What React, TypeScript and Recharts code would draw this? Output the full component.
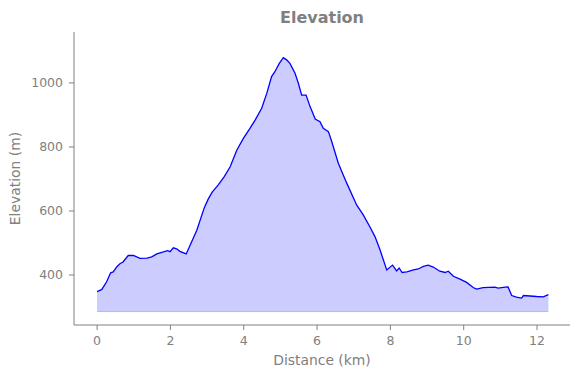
import React from "react";
import { AreaChart, Area, XAxis, YAxis, ReferenceLine, Label } from "recharts";

const distanceKm = [
  0, 0.13, 0.26, 0.37, 0.44, 0.54, 0.63, 0.7, 0.85, 0.99, 1.17, 1.36, 1.49, 1.63, 1.81, 1.92, 1.99, 2.08,
  2.17, 2.26, 2.43, 2.54, 2.72, 2.92, 3.03, 3.14, 3.3, 3.46, 3.63, 3.81, 3.99, 4.17, 4.31, 4.49, 4.63,
  4.76, 4.85, 4.97, 5.08, 5.17, 5.26, 5.4, 5.49, 5.58, 5.7, 5.81, 5.95, 6.08, 6.17, 6.31, 6.4, 6.58,
  6.81, 7.08, 7.26, 7.44, 7.58, 7.72, 7.9, 8.06, 8.17, 8.24, 8.32, 8.45, 8.63, 8.76, 8.9, 9.03, 9.17,
  9.35, 9.49, 9.58, 9.72, 9.9, 10.08, 10.26, 10.35, 10.53, 10.85, 10.94, 11.13, 11.21, 11.31, 11.44,
  11.58, 11.63, 11.99, 12.17, 12.31,
];

const elevationM = [
  348, 355, 379, 407, 410, 426, 436, 440, 461, 461, 452, 453, 457, 466, 472, 476, 473, 485, 482, 474,
  466, 494, 540, 609, 637, 659, 681, 706, 738, 790, 827, 858, 884, 921, 968, 1020, 1035, 1061, 1079,
  1072, 1061, 1030, 999, 962, 962, 926, 887, 879, 858, 848, 817, 749, 687, 619, 588, 551, 520, 478,
  416, 431, 413, 422, 408, 410, 416, 419, 427, 431, 425, 412, 408, 412, 396, 387, 377, 361, 356, 361,
  362, 359, 362, 363, 336, 331, 328, 336, 333, 332, 339,
];

const fillBase = 286;
const xTicks = [0, 2, 4, 6, 8, 10, 12];
const yTicks = [400, 600, 800, 1000];
const xDomain = [-0.63, 12.9];
const yDomain = [244, 1159];

const data = distanceKm.map((d, i) => ({ d, e: elevationM[i] }));

const GRAY = "#808080";
const FONT = "'DejaVu Sans', sans-serif";

const W = 572;
const H = 370;
const M = { top: 24, right: 10, left: 0, bottom: 0 };
const YW = 66;
const XH = 53;

export default function App() {
  const plotTop = M.top;
  const plotH = H - M.top - XH;
  return (
    <div style={{ position: "relative", width: W, height: H, fontFamily: FONT }}>
      <div
        style={{
          position: "absolute",
          left: YW,
          width: W - YW - M.right,
          top: 2,
          textAlign: "center",
          fontSize: 16,
          lineHeight: "16px",
          fontWeight: "bold",
          color: GRAY,
          fontFamily: FONT,
        }}
      >
        Elevation
      </div>
      <AreaChart width={W} height={H} data={data} margin={M}>
        <XAxis
          dataKey="d"
          type="number"
          domain={xDomain}
          ticks={xTicks}
          allowDataOverflow
          height={XH}
          stroke={GRAY}
          tickSize={5}
          tickMargin={6}
          tick={{ fill: GRAY, fontSize: 12.5, fontFamily: FONT }}
        >
          <Label
            content={() => (
              <text
                x={YW + (W - YW - M.right) / 2}
                y={357}
                textAnchor="middle"
                fill={GRAY}
                fontSize={13.9}
                fontFamily={FONT}
              >
                Distance (km)
              </text>
            )}
          />
        </XAxis>
        <YAxis
          type="number"
          domain={yDomain}
          ticks={yTicks}
          allowDataOverflow
          width={YW}
          stroke={GRAY}
          tickSize={5}
          tickMargin={6}
          tick={{ fill: GRAY, fontSize: 12.5, fontFamily: FONT }}
        >
          <Label
            content={() => (
              <text
                x={12}
                y={plotTop + plotH / 2}
                textAnchor="middle"
                fill={GRAY}
                fontSize={13.9}
                fontFamily={FONT}
                transform={`rotate(-90, 12, ${plotTop + plotH / 2})`}
              >
                Elevation (m)
              </text>
            )}
          />
        </YAxis>
        <Area
          dataKey="e"
          type="linear"
          baseValue={fillBase}
          fill="#ccccff"
          fillOpacity={1}
          stroke="#0000ff"
          strokeWidth={1.3}
          dot={false}
          activeDot={false}
          isAnimationActive={false}
        />
        <ReferenceLine
          segment={[
            { x: distanceKm[0], y: fillBase },
            { x: distanceKm[distanceKm.length - 1], y: fillBase },
          ]}
          stroke="#b5b5ff"
          strokeWidth={1}
        />
      </AreaChart>
    </div>
  );
}
